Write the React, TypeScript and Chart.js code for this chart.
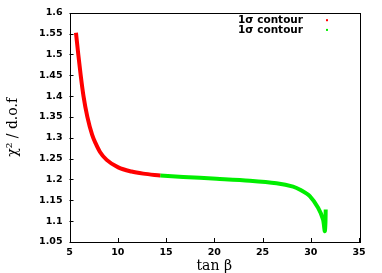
import React, { useEffect, useRef } from "react";
import { Chart, registerables } from "chart.js";

Chart.register(...registerables);

const redX = [5.67, 5.91, 6.16, 6.45, 6.85, 7.35, 7.7, 8.16, 8.85, 10.05, 11.43, 12.64, 14.4];
const redY = [1.552, 1.5, 1.45, 1.4, 1.35, 1.307, 1.287, 1.266, 1.247, 1.229, 1.219, 1.214, 1.2095];
const greenX = [14.4, 16.78, 20.24, 23.69, 26.45, 28.17, 29.0, 29.9, 30.76, 31.27, 31.45, 31.52, 31.55];
const greenY = [1.2095, 1.206, 1.2017, 1.197, 1.191, 1.183, 1.174, 1.16, 1.132, 1.104, 1.076, 1.095, 1.128];
const seriesLabels = ["1σ contour", "1σ contour"];
const xTicks = [5, 10, 15, 20, 25, 30, 35];
const yTicks = [1.05, 1.1, 1.15, 1.2, 1.25, 1.3, 1.35, 1.4, 1.45, 1.5, 1.55, 1.6];

const tickFont = "'DejaVu Sans', sans-serif";
const titleFont = "'DejaVu Serif', serif";

const frame = {
  id: "frame",
  afterDatasetsDraw(chart: any) {
    const { ctx, chartArea: a, scales } = chart;
    ctx.save();
    ctx.strokeStyle = "#000";
    ctx.lineWidth = 1;
    ctx.strokeRect(Math.round(a.left) + 0.5, Math.round(a.top) + 0.5, Math.round(a.right - a.left), Math.round(a.bottom - a.top));
    ctx.beginPath();
    for (const v of xTicks) {
      const px = Math.round(scales.x.getPixelForValue(v)) + 0.5;
      ctx.moveTo(px, a.bottom);
      ctx.lineTo(px, a.bottom - 4);
    }
    for (const v of yTicks) {
      const py = Math.round(scales.y.getPixelForValue(v)) + 0.5;
      ctx.moveTo(a.left, py);
      ctx.lineTo(a.left + 4, py);
    }
    ctx.stroke();
    // legend
    ctx.font = `bold 10.5px ${tickFont}`;
    ctx.textAlign = "right";
    ctx.textBaseline = "middle";
    const colors = ["#ff0000", "#00ee00"];
    chart.data.datasets.forEach((ds: any, i: number) => {
      const y = a.top + 7.5 + i * 9.7;
      ctx.fillStyle = "#000";
      ctx.fillText(ds.label, 303, y);
      ctx.fillStyle = colors[i];
      ctx.fillRect(326, y - 1, 2, 2);
    });
    ctx.restore();
  },
};

export default function App() {
  const ref = useRef<HTMLCanvasElement>(null);
  useEffect(() => {
    document.body.style.margin = "0";
    const chart = new Chart(ref.current!, {
      type: "scatter",
      data: {
        datasets: [
          {
            label: seriesLabels[0],
            data: redX.map((x, i) => ({ x, y: redY[i] })),
            showLine: true,
            borderColor: "#ff0000",
            borderWidth: 4,
            pointRadius: 0,
            cubicInterpolationMode: "monotone",
          },
          {
            label: seriesLabels[1],
            data: greenX.map((x, i) => ({ x, y: greenY[i] })),
            showLine: true,
            borderColor: "#00ee00",
            borderWidth: 4,
            pointRadius: 0,
            tension: 0.3,
          },
        ],
      },
      options: {
        animation: false,
        responsive: false,
        layout: { padding: { top: 12, right: 23, left: 0, bottom: 0 } },
        plugins: { legend: { display: false }, tooltip: { enabled: false } },
        scales: {
          x: {
            type: "linear",
            min: 5,
            max: 35,
            border: { display: false },
            grid: { display: false, drawTicks: false },
            afterBuildTicks: (s: any) => { s.ticks = xTicks.map((v) => ({ value: v })); },
            afterFit: (s: any) => { s.height = 31; },
            ticks: { color: "#000", padding: 5, font: { family: tickFont, size: 9.5, weight: "bold" } },
            title: { display: true, text: "tan β", color: "#000", padding: { top: 0, bottom: 0 }, font: { family: titleFont, size: 14, lineHeight: 1 } },
          },
          y: {
            type: "linear",
            min: 1.05,
            max: 1.6,
            border: { display: false },
            grid: { display: false, drawTicks: false },
            afterBuildTicks: (s: any) => { s.ticks = yTicks.map((v) => ({ value: v })); },
            afterFit: (s: any) => { s.width = 69.5; },
            ticks: { color: "#000", padding: 7, callback: (v: any) => String(Number(v)), font: { family: tickFont, size: 9.5, weight: "bold" } },
            title: { display: true, text: "χ² / d.o.f", color: "#000", padding: { top: 6, bottom: 0 }, font: { family: titleFont, size: 14, lineHeight: 1 } },
          },
        },
      },
      plugins: [frame],
    } as any);
    return () => chart.destroy();
  }, []);
  return (
    <div style={{ position: "absolute", left: 0, top: 0, width: 382, height: 273, background: "#fff" }}>
      <canvas ref={ref} width={382} height={273} style={{ display: "block" }} />
    </div>
  );
}
